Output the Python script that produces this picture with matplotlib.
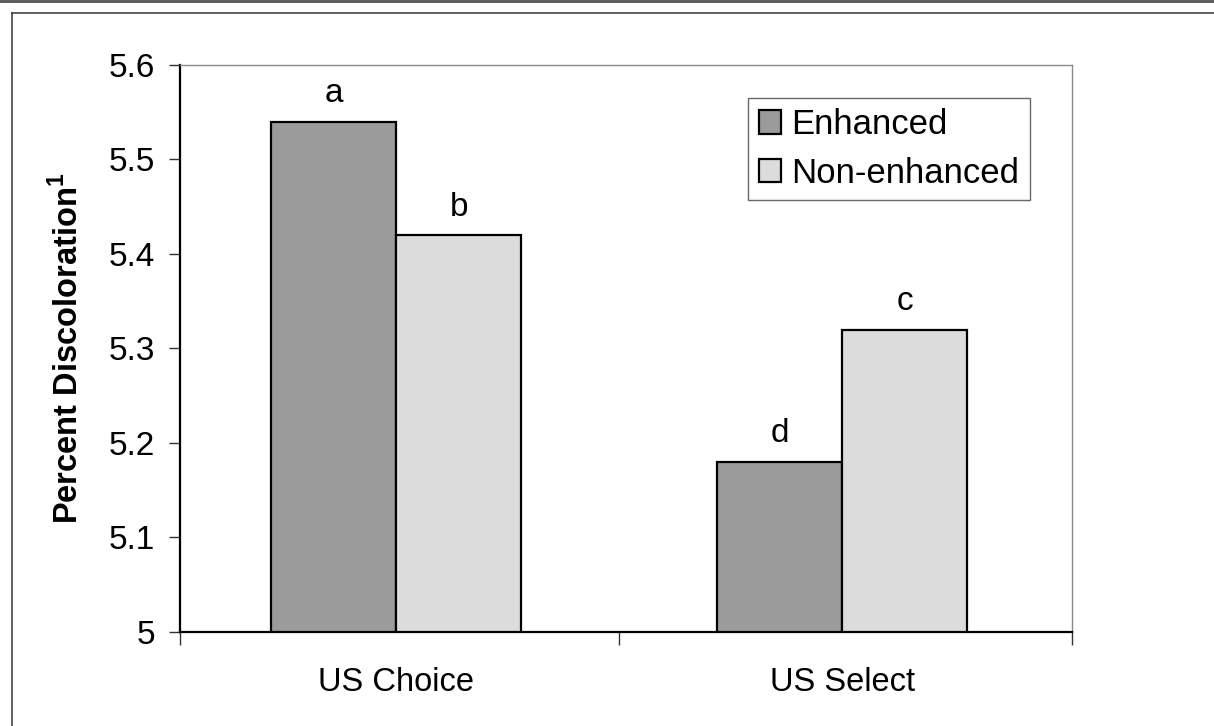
import matplotlib.pyplot as plt
from matplotlib.lines import Line2D
import numpy as np

plt.rcParams['font.family'] = ['Liberation Sans', 'DejaVu Sans']

grades = ['US Choice', 'US Select']
series = ['Enhanced', 'Non-enhanced']
enhanced = [5.54, 5.18]
non_enhanced = [5.42, 5.32]
enhanced_letters = ['a', 'd']
non_enhanced_letters = ['b', 'c']

fig = plt.figure(figsize=(12.14, 7.26), dpi=100)
ax = fig.add_axes([0.1483, 0.1295, 0.7347, 0.781])

x = np.arange(len(grades))
w = 0.28
b1 = ax.bar(x - w / 2, enhanced, w, color='#9b9b9b', edgecolor='black',
            linewidth=1.6, label=series[0])
b2 = ax.bar(x + w / 2, non_enhanced, w, color='#dcdcdc', edgecolor='black',
            linewidth=1.6, label=series[1])

for bars, letters in ((b1, enhanced_letters), (b2, non_enhanced_letters)):
    for rect, txt in zip(bars, letters):
        ax.annotate(txt, (rect.get_x() + rect.get_width() / 2, rect.get_height()),
                    xytext=(0, 14), textcoords='offset points',
                    ha='center', va='baseline', fontsize=24)

ax.set_ylim(5, 5.6)
ax.set_yticks([5, 5.1, 5.2, 5.3, 5.4, 5.5, 5.6])
ax.set_yticklabels(['5', '5.1', '5.2', '5.3', '5.4', '5.5', '5.6'])
ax.set_xlim(-0.485, 1.515)

# category labels sit between boundary ticks
ax.set_xticks(x)
ax.set_xticklabels(grades)
ax.tick_params(axis='x', which='major', length=0, pad=25, labelsize=23.5)
ax.set_xticks([-0.485, 0.5, 1.515], minor=True)
ax.tick_params(axis='x', which='minor', length=9, width=1, color='#333333')
ax.tick_params(axis='y', length=8, width=1, color='#333333', pad=10, labelsize=24)

ax.set_ylabel('Percent Discoloration$^{\\mathregular{1}}$', fontsize=23.5,
              fontweight='bold', labelpad=17)

for side in ('left', 'bottom'):
    ax.spines[side].set_color('black')
    ax.spines[side].set_linewidth(1.6)
for side in ('top', 'right'):
    ax.spines[side].set_color('#8a8a8a')
    ax.spines[side].set_linewidth(1.0)

leg = ax.legend(loc='upper right', bbox_to_anchor=(0.953, 0.942), fontsize=25,
                frameon=True, fancybox=False, handlelength=0.65, handleheight=0.65,
                handletextpad=0.3, borderpad=0.3, labelspacing=0.45,
                borderaxespad=0)
leg.get_frame().set_edgecolor('#444444')
leg.get_frame().set_linewidth(1.0)

# outer frame around the chart
fig.add_artist(Line2D([12 / 1214, 12 / 1214], [0, 1 - 13 / 726],
                      color='#444444', lw=1.2))
fig.add_artist(Line2D([12 / 1214, 1], [1 - 13 / 726, 1 - 13 / 726],
                      color='#444444', lw=1.2))
fig.add_artist(Line2D([0, 1], [1 - 1 / 726, 1 - 1 / 726], color='#555555', lw=2))

fig.savefig('out.png', dpi=100)
